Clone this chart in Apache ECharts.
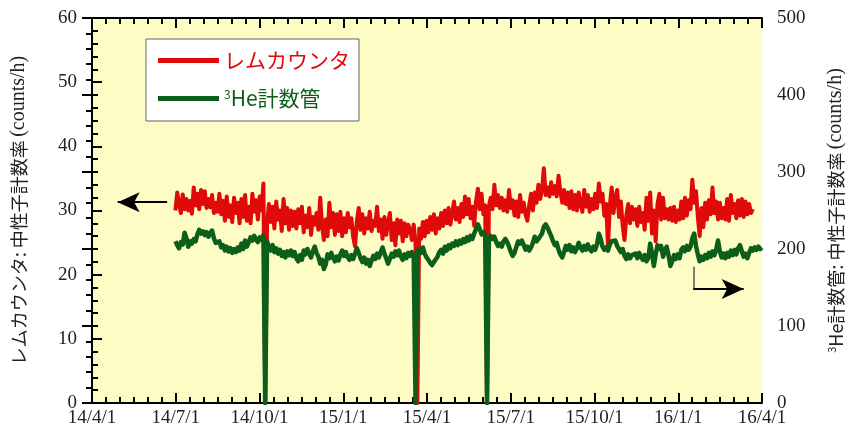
<!DOCTYPE html>
<html>
<head>
<meta charset="utf-8">
<script src="https://cdn.jsdelivr.net/npm/echarts@6/dist/echarts.min.js"></script>
<style>
  html, body { margin: 0; padding: 0; background: #ffffff; }
  #chart { width: 846px; height: 432px; }
</style>
</head>
<body>
<div id="chart"></div>
<script>
// Time axis: days counted from the first tick date
const axisStartDate = '2014-04-01';
const axisEndDate = '2016-04-01';
const tickLabels = ['14/4/1', '14/7/1', '14/10/1', '15/1/1', '15/4/1', '15/7/1', '15/10/1', '16/1/1', '16/4/1'];

// Both detectors are sampled every two days from this date
const seriesStartDate = '2014-07-01';
const stepDays = 2;

// レムカウンタ count rate (counts/h), left axis
const remValues = [
  30.0, 32.8, 31.0, 29.6, 32.5, 30.2, 31.8, 30.0, 31.5, 29.5,
  33.6, 30.8, 32.6, 30.2, 33.2, 31.0, 33.0, 30.4, 31.8, 30.5,
  32.4, 29.6, 31.2, 29.8, 32.6, 29.4, 31.5, 28.4, 32.2, 29.0,
  30.8, 28.2, 32.0, 29.6, 31.2, 28.0, 31.8, 29.0, 32.4, 28.4,
  30.6, 28.0, 32.6, 29.8, 31.6, 28.6, 32.2, 30.0, 34.2, 0,
  28.0, 31.0, 28.2, 30.6, 27.2, 31.4, 28.6, 30.0, 26.8, 31.8,
  28.0, 30.4, 27.0, 30.0, 27.6, 29.8, 27.2, 30.2, 28.0, 30.6,
  26.6, 29.2, 27.4, 30.4, 26.2, 29.0, 27.8, 29.6, 27.0, 32.0,
  27.6, 25.4, 28.6, 26.0, 31.2, 27.4, 29.6, 26.2, 29.4, 26.8,
  29.8, 26.0, 28.8, 26.6, 29.6, 27.4, 28.8, 25.8, 24.4, 28.4,
  30.4, 27.0, 29.4, 26.4, 28.8, 27.2, 29.8, 26.8, 28.4, 27.6,
  30.6, 26.8, 28.6, 25.6, 29.0, 26.2, 28.2, 29.6, 25.4, 28.0,
  24.6, 28.6, 26.4, 28.4, 25.2, 28.0, 26.0, 27.8, 27.0, 25.4,
  27.8, 25.0, 0, 27.2, 25.6, 28.2, 26.0, 28.4, 26.6, 29.0,
  27.0, 29.4, 26.4, 28.8, 27.2, 29.6, 27.6, 30.0, 28.0, 30.4,
  27.8, 29.6, 31.4, 28.6, 30.4, 28.2, 31.0, 29.0, 32.2, 29.4,
  31.8, 28.8, 30.6, 27.6, 31.4, 33.4, 30.2, 32.6, 29.4, 30.8,
  0, 30.6, 32.0, 30.2, 34.0, 30.8, 32.4, 30.4, 32.0, 30.0,
  31.6, 29.8, 33.2, 30.4, 31.6, 29.2, 31.4, 29.0, 32.4, 29.8,
  31.2, 29.4, 28.4, 30.8, 32.6, 30.0, 32.8, 31.2, 34.0, 31.8,
  33.2, 36.6, 32.4, 33.6, 32.2, 34.4, 32.6, 33.8, 32.2, 35.4,
  33.0, 31.2, 33.2, 31.0, 32.8, 30.4, 33.0, 30.2, 32.4, 30.0,
  32.8, 31.0, 29.8, 33.2, 30.6, 32.4, 29.8, 31.8, 30.2, 32.6,
  30.4, 34.2, 31.4, 32.6, 29.2, 31.0, 24.4, 30.8, 33.6, 29.6,
  32.0, 33.2, 29.0, 31.4, 27.6, 25.4, 29.2, 31.0, 28.0, 30.6,
  28.6, 30.2, 27.6, 30.6, 28.2, 29.6, 27.0, 32.0, 28.4, 32.8,
  26.4, 30.0, 25.2, 31.0, 32.6, 28.6, 32.0, 28.8, 30.2, 28.6,
  30.4, 28.4, 30.6, 28.2, 30.0, 28.6, 31.4, 28.8, 32.0, 29.2,
  31.6, 30.2, 34.8, 31.2, 33.0, 29.0, 26.0, 30.4, 27.4, 31.2,
  28.6, 31.6, 29.4, 33.6, 29.6, 31.4, 28.6, 31.2, 28.8, 30.4,
  28.6, 31.8, 28.4, 32.4, 29.6, 31.0, 28.8, 31.6, 29.2, 31.8,
  29.0, 31.4, 29.4, 31.0, 29.6, 30.2
];

// 3He counter count rate (counts/h), right axis
const he3Values = [
  210, 205, 201, 209, 206, 221, 214, 203, 210, 207,
  213, 210, 219, 225, 220, 223, 218, 222, 216, 221,
  224, 214, 208, 206, 210, 202, 205, 198, 203, 197,
  201, 195, 200, 196, 202, 198, 207, 200, 211, 203,
  209, 215, 211, 217, 212, 209, 215, 212, 218, 0,
  210, 203, 198, 205, 196, 201, 194, 199, 191, 196,
  189, 197, 192, 198, 191, 196, 188, 184, 192, 186,
  198, 193, 200, 194, 189, 197, 203, 195, 190, 181,
  186, 174, 180, 193, 188, 195, 189, 184, 190, 185,
  193, 198, 191, 196, 189, 186, 192, 187, 194, 201,
  195, 188, 183, 189, 181, 186, 178, 185, 191, 187,
  194, 189, 196, 202, 194, 188, 181, 187, 194, 190,
  197, 192, 198, 190, 186, 193, 188, 195, 191, 196,
  190, 0, 196, 200, 195, 202, 194, 189, 186, 182,
  179, 183, 181, 190, 196, 199, 194, 203, 198, 205,
  201, 207, 204, 210, 205, 211, 207, 213, 209, 215,
  211, 217, 213, 220, 226, 232, 226, 219, 222, 217,
  0, 212, 217, 213, 216, 209, 204, 207, 203, 210,
  213, 209, 203, 196, 191, 195, 203, 210, 207, 211,
  205, 199, 203, 198, 202, 208, 216, 210, 213, 211,
  220, 229, 232, 228, 222, 217, 210, 205, 208, 199,
  193, 189, 196, 204, 199, 205, 197, 202, 196, 201,
  208, 202, 198, 204, 199, 206, 200, 197, 203, 199,
  206, 220, 213, 203, 199, 202, 198, 206, 210, 208,
  211, 204, 200, 196, 200, 191, 187, 193, 188, 192,
  190, 194, 188, 195, 190, 186, 192, 184, 189, 207,
  194, 178, 193, 205, 200, 204, 190, 197, 203, 192,
  178, 184, 192, 187, 193, 188, 199, 202, 197, 204,
  199, 203, 214, 220, 204, 193, 184, 190, 186, 192,
  188, 195, 190, 197, 192, 199, 211, 197, 189, 194,
  188, 195, 190, 198, 192, 199, 193, 201, 205, 197,
  190, 194, 188, 195, 201, 198, 202, 199, 203, 200, 202
];

// Arrows telling which axis each curve belongs to (data units)
const remArrow = { fromDay: 82, toDay: 28, value: 31.3 };
const he3Arrow = { day: 656, topValue: 177, value: 148, toDay: 711 };

const RED = '#e00a0a';
const GREEN = '#0c5e1b';

function dayOffset(dateStr) {
  return Math.round((Date.parse(dateStr) - Date.parse(axisStartDate)) / 86400000);
}
const spanDays = dayOffset(axisEndDate);
const tickStep = spanDays / (tickLabels.length - 1);
const firstDay = dayOffset(seriesStartDate);

const remData = remValues.map((v, i) => [firstDay + i * stepDays, v]);
const he3Data = he3Values.map((v, i) => [firstDay + i * stepDays, v]);

const serif = 'Liberation Serif, Times New Roman, serif';
const gothic = 'Noto Sans CJK JP, sans-serif';

const axisLineStyle = { color: '#000', width: 2 };
const tickStyle = { color: '#000', width: 2 };

function xAxisDef(position, showLabels) {
  return {
    type: 'value', position: position,
    min: 0, max: spanDays, interval: tickStep,
    axisLine: { show: true, onZero: false, lineStyle: axisLineStyle },
    axisTick: { show: true, inside: true, length: 10, lineStyle: tickStyle },
    minorTick: { show: true, splitNumber: 6, length: 6, lineStyle: tickStyle },
    splitLine: { show: false },
    axisLabel: {
      show: showLabels, margin: 6, color: '#222', fontFamily: serif, fontSize: 19,
      formatter: v => tickLabels[Math.round(v / tickStep)]
    }
  };
}

function yAxisDef(position, max, interval, name, gap) {
  return {
    type: 'value', position: position,
    min: 0, max: max, interval: interval,
    axisLine: { show: true, lineStyle: axisLineStyle },
    axisTick: { show: true, inside: true, length: 10, lineStyle: tickStyle },
    minorTick: { show: true, splitNumber: 5, length: 6, lineStyle: tickStyle },
    splitLine: { show: false },
    axisLabel: { margin: 15, color: '#222', fontFamily: serif, fontSize: 19 },
    name: name, nameLocation: 'middle', nameRotate: 90, nameGap: gap,
    nameTextStyle: {
      color: '#222',
      rich: {
        jp: { fontFamily: gothic, fontSize: 18, color: '#222' },
        en: { fontFamily: serif, fontSize: 20, color: '#222' },
        sup: { fontFamily: gothic, fontSize: 11, color: '#222', verticalAlign: 'top' }
      }
    }
  };
}

const chart = echarts.init(document.getElementById('chart'), null, { renderer: 'canvas' });

chart.setOption({
  animation: false,
  backgroundColor: '#ffffff',
  grid: {
    left: 92, right: 84, top: 18, bottom: 29,
    containLabel: false, outerBoundsMode: 'none',
    show: true, backgroundColor: '#fdfcc4', borderWidth: 0
  },
  xAxis: [xAxisDef('bottom', true), xAxisDef('top', false)],
  yAxis: [
    yAxisDef('left', 60, 10, '{jp|レムカウンタ: 中性子計数率} {en|(counts/h)}', 63),
    yAxisDef('right', 500, 100, '{sup|3}{jp|He計数管: 中性子計数率} {en|(counts/h)}', 64)
  ],
  legend: {
    left: 146, top: 39, orient: 'vertical',
    backgroundColor: '#ffffff', borderColor: '#666', borderWidth: 1,
    padding: [11, 9, 12, 12],
    itemWidth: 61, itemHeight: 5, itemGap: 17, icon: 'rect',
    textStyle: {
      fontFamily: gothic, fontSize: 21,
      rich: {
        sup: { fontFamily: gothic, fontSize: 12, color: GREEN, verticalAlign: 'top' },
        g: { fontFamily: gothic, fontSize: 21, color: GREEN }
      }
    },
    formatter: name => name.startsWith('³') ? '{sup|3}{g|' + name.slice(1) + '}' : name,
    data: [
      { name: 'レムカウンタ', textStyle: { color: RED } },
      { name: '³He計数管', textStyle: { color: GREEN } }
    ]
  },
  series: [
    {
      name: 'レムカウンタ', type: 'line', xAxisIndex: 0, yAxisIndex: 0,
      data: remData, showSymbol: false, symbol: 'none',
      lineStyle: { color: RED, width: 4, join: 'round' },
      itemStyle: { color: RED },
      markLine: {
        silent: true, animation: false,
        symbol: ['none', 'arrow'], symbolSize: [15, 22],
        label: { show: false },
        lineStyle: { color: '#000', width: 2, type: 'solid' },
        data: [[
          { coord: [remArrow.fromDay, remArrow.value] },
          { coord: [remArrow.toDay, remArrow.value] }
        ]]
      }
    },
    {
      name: '³He計数管', type: 'line', xAxisIndex: 0, yAxisIndex: 1,
      data: he3Data, showSymbol: false, symbol: 'none',
      lineStyle: { color: GREEN, width: 4.5, join: 'round' },
      itemStyle: { color: GREEN },
      markLine: {
        silent: true, animation: false,
        label: { show: false },
        data: [
          [
            { coord: [he3Arrow.day, he3Arrow.topValue], symbol: 'none', lineStyle: { color: '#555', width: 1.5, type: 'solid' } },
            { coord: [he3Arrow.day, he3Arrow.value], symbol: 'none' }
          ],
          [
            { coord: [he3Arrow.day, he3Arrow.value], symbol: 'none', lineStyle: { color: '#000', width: 2, type: 'solid' } },
            { coord: [he3Arrow.toDay, he3Arrow.value], symbol: 'arrow', symbolSize: [15, 22] }
          ]
        ]
      }
    }
  ]
});
</script>
</body>
</html>
